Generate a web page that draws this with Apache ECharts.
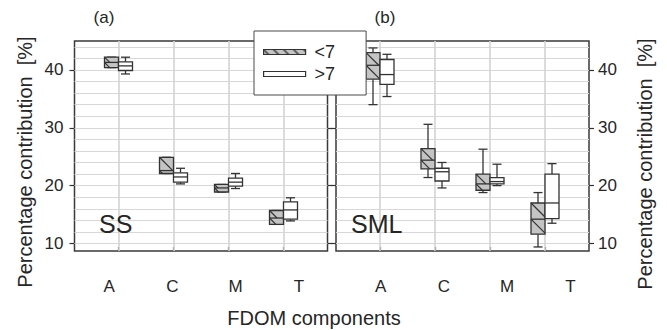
<!DOCTYPE html>
<html><head><meta charset="utf-8">
<script src="https://cdn.jsdelivr.net/npm/echarts@6/dist/echarts.min.js"></script>
<style>html,body{margin:0;padding:0;background:#fff}#c{width:667px;height:330px}</style>
</head><body><div id="c"></div>
<script>
// ---------- data ----------
const categories = ['A', 'C', 'M', 'T'];
const groupNames = ['<7', '>7'];
// each row: [min, q1, median, q3, max]
const ssLow  = [[40.4, 40.4, 41.3, 42.2, 42.2], [22.1, 22.1, 22.6, 24.9, 24.9], [18.9, 18.9, 19.6, 20.2, 20.2], [13.3, 13.3, 14.4, 15.7, 15.7]];
const ssHigh = [[39.3, 39.9, 40.7, 41.4, 42.2], [20.3, 20.6, 21.5, 22.2, 23.0], [19.5, 19.9, 20.6, 21.3, 22.1], [13.9, 14.2, 15.8, 17.2, 17.9]];
const smlLow = [[34.0, 38.4, 40.8, 43.0, 43.8], [21.4, 22.9, 24.4, 26.4, 30.6], [18.8, 19.2, 20.3, 22.0, 26.3], [9.4, 11.6, 14.2, 17.0, 18.8]];
const smlHigh= [[35.4, 37.5, 39.2, 41.8, 42.7], [19.6, 20.8, 22.4, 23.0, 24.0], [20.0, 20.3, 20.7, 21.4, 23.7], [13.5, 14.3, 17.0, 22.0, 23.8]];
const yTicks = [10, 20, 30, 40];
const yGridLines = [10, 12, 14, 16, 18, 20, 22, 24, 26, 28, 30, 32, 34, 36, 38, 40, 42, 44];
const xTicks = [1, 2, 3, 4];
const panelLabels = ['(a)', '(b)'];
const siteLabels = ['SS', 'SML'];
const yTitle = 'Percentage contribution  [%]';
const xTitle = 'FDOM components';

// ---------- styles ----------
const FONT = '"Liberation Sans", Arial, Helvetica, sans-serif';
const TXT = '#262626';
const DARK = '#333';
const GREY = '#c4c4c4';

function hatchCanvas(size) {
  const c = document.createElement('canvas');
  c.width = size; c.height = size;
  const g = c.getContext('2d');
  g.fillStyle = GREY; g.fillRect(0, 0, size, size);
  g.strokeStyle = DARK; g.lineWidth = 1.4;
  g.beginPath();
  g.moveTo(-2, -2); g.lineTo(size + 2, size + 2);
  g.moveTo(-2, size - 2); g.lineTo(2, size + 2);
  g.moveTo(size - 2, -2); g.lineTo(size + 2, 2);
  g.stroke();
  return c;
}
const legendPattern = { image: hatchCanvas(10), repeat: 'repeat' };

function toItems(rows) {
  return rows.map((r, i) => [xTicks[i]].concat(r));
}

function makeRender(side, hatched) {
  return function (params, api) {
    const x = api.value(0);
    const pMin = api.coord([x, api.value(1)]);
    const pQ1 = api.coord([x, api.value(2)]);
    const pMed = api.coord([x, api.value(3)]);
    const pQ3 = api.coord([x, api.value(4)]);
    const pMax = api.coord([x, api.value(5)]);
    const W = 14, capW = 9, lw = 1.3;
    const cx = pMed[0];
    const x0 = side < 0 ? cx - W : cx;
    const mid = x0 + W / 2;
    const st = { stroke: DARK, lineWidth: lw };
    const ch = [];
    ch.push({ type: 'line', shape: { x1: mid, y1: pQ3[1], x2: mid, y2: pMax[1] }, style: st });
    ch.push({ type: 'line', shape: { x1: mid, y1: pQ1[1], x2: mid, y2: pMin[1] }, style: st });
    ch.push({ type: 'line', shape: { x1: mid - capW / 2, y1: pMax[1], x2: mid + capW / 2, y2: pMax[1] }, style: st });
    ch.push({ type: 'line', shape: { x1: mid - capW / 2, y1: pMin[1], x2: mid + capW / 2, y2: pMin[1] }, style: st });
    ch.push({ type: 'rect', shape: { x: x0, y: pQ3[1], width: W, height: pQ1[1] - pQ3[1] },
      style: { fill: hatched ? GREY : '#fff', stroke: DARK, lineWidth: lw } });
    if (hatched) {
      const halves = [[pQ3[1], pMed[1]], [pMed[1], pQ1[1]]];
      const s = 16;
      halves.forEach(([ya, yb]) => {
        const h = yb - ya;
        for (let c = 0; c < h; c += s) {
          const t1 = Math.min(W, h - c);
          if (t1 <= 0.5) continue;
          ch.push({ type: 'line', shape: { x1: x0, y1: ya + c, x2: x0 + t1, y2: ya + c + t1 }, style: { stroke: DARK, lineWidth: 1.2 } });
        }
      });
    }
    ch.push({ type: 'line', shape: { x1: x0, y1: pMed[1], x2: x0 + W, y2: pMed[1] }, style: st });
    return { type: 'group', children: ch };
  };
}

function gridMarkLine() {
  return {
    silent: true, symbol: ['none', 'none'], label: { show: false }, z: 1, animation: false,
    lineStyle: { color: '#d8d8d8', width: 1, type: 'solid' },
    emphasis: { disabled: true },
    data: yGridLines.map(v => ({ yAxis: v }))
      .concat(xTicks.map(v => ({ xAxis: v, lineStyle: { color: '#d4d4d4', width: 1.6, type: 'solid' } })))
  };
}

const grids = [
  { left: 74.5, top: 41, width: 253, height: 210, show: true, borderColor: '#3a3a3a', borderWidth: 1.5, backgroundColor: 'rgba(0,0,0,0)' },
  { left: 336, top: 41, width: 253, height: 210, show: true, borderColor: '#3a3a3a', borderWidth: 1.5, backgroundColor: 'rgba(0,0,0,0)' }
];

const xAxes = [], yAxes = [];
[0, 1].forEach(g => {
  xAxes.push({
    gridIndex: g, type: 'value', min: 0.2, max: 4.8, position: 'bottom',
    axisLine: { show: false }, axisLabel: { show: false }, splitLine: { show: false },
    axisTick: { show: true, inside: true, length: 4, customValues: xTicks, lineStyle: { color: DARK, width: 1.2 } }
  });
  xAxes.push({
    gridIndex: g, type: 'category', data: categories, position: 'bottom', boundaryGap: true,
    axisLine: { show: false }, axisTick: { show: false }, splitLine: { show: false },
    axisLabel: { margin: 27, fontSize: 17, color: TXT, fontFamily: FONT, padding: [0, 0, 0, g === 0 ? 6 : 26] }
  });
  ['left', 'right'].forEach(pos => {
    const showLab = (g === 0 && pos === 'left') || (g === 1 && pos === 'right');
    yAxes.push({
      gridIndex: g, type: 'value', min: 8.7, max: 45, position: pos,
      axisLine: { show: false }, splitLine: { show: false },
      axisTick: { show: true, length: 5, customValues: yTicks, lineStyle: { color: DARK, width: 1.2 } },
      axisLabel: { show: showLab, customValues: yTicks, margin: pos === 'left' ? 11 : 9, fontSize: 17, color: TXT, fontFamily: FONT }
    });
  });
});

function boxSeries(name, g, rows, side, hatched, withGrid) {
  const s = {
    name: name, type: 'custom', xAxisIndex: g * 2, yAxisIndex: g * 2,
    renderItem: makeRender(side, hatched),
    encode: { x: 0, y: [1, 2, 3, 4, 5] },
    data: toItems(rows), z: 3, silent: true,
    itemStyle: { color: hatched ? legendPattern : '#fff', borderColor: DARK, borderWidth: 1.2 }
  };
  if (withGrid) s.markLine = gridMarkLine();
  return s;
}

const series = [
  boxSeries(groupNames[0], 0, ssLow, -1, true, true),
  boxSeries(groupNames[1], 0, ssHigh, 1, false, false),
  boxSeries(groupNames[0], 1, smlLow, -1, true, true),
  boxSeries(groupNames[1], 1, smlHigh, 1, false, false)
];

function txt(text, x, y, size, align, extra) {
  const a = align || 'center';
  return Object.assign({
    type: 'text', x: x, y: y, z: 100,
    style: { text: text, font: size + 'px ' + FONT, fill: TXT, align: a, verticalAlign: 'middle', textAlign: a, textVerticalAlign: 'middle' }
  }, extra || {});
}

const option = {
  backgroundColor: '#fff',
  animation: false,
  grid: grids,
  xAxis: xAxes,
  yAxis: yAxes,
  series: series,
  legend: {
    left: 254, top: 31, orient: 'vertical', selectedMode: false,
    itemWidth: 42, itemHeight: 5, itemGap: 2,
    padding: [11, 31, 11, 9],
    backgroundColor: '#fff', borderColor: '#4a4a4a', borderWidth: 1, z: 20,
    textStyle: { fontSize: 18, color: TXT, fontFamily: FONT, lineHeight: 20, padding: [0, 0, 0, 4] },
    data: [
      { name: groupNames[0], icon: 'rect', itemStyle: { color: legendPattern, borderColor: DARK, borderWidth: 1.2 } },
      { name: groupNames[1], icon: 'rect', itemStyle: { color: '#fff', borderColor: DARK, borderWidth: 1.2 } }
    ]
  },
  graphic: [
    txt(panelLabels[0], 104, 17, 17),
    txt(panelLabels[1], 385, 17, 17),
    txt(siteLabels[0], 99, 224, 25, 'left'),
    txt(siteLabels[1], 351, 224, 25, 'left'),
    txt(yTitle, 25, 162, 20, 'center', { rotation: Math.PI / 2 }),
    txt(yTitle, 645, 164, 20, 'center', { rotation: Math.PI / 2 }),
    txt(xTitle, 314, 318, 20)
  ]
};

const chart = echarts.init(document.getElementById('c'), null, { renderer: 'svg', width: 667, height: 330 });
chart.setOption(option);
</script>
</body></html>
